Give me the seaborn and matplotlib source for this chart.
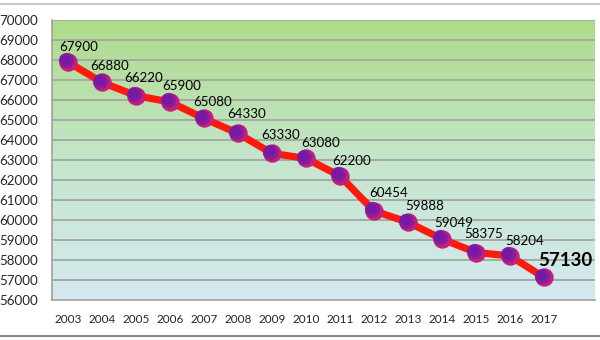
import numpy as np
import pandas as pd
import matplotlib
matplotlib.use("Agg")
import matplotlib.pyplot as plt
import matplotlib.transforms as mtransforms
from matplotlib.colors import LinearSegmentedColormap
from matplotlib.lines import Line2D
import seaborn as sns

years = [2003, 2004, 2005, 2006, 2007, 2008, 2009, 2010, 2011, 2012, 2013, 2014, 2015, 2016, 2017]
values = [67900, 66880, 66220, 65900, 65080, 64330, 63330, 63080, 62200, 60454, 59888, 59049, 58375, 58204, 57130]
yticks = list(range(56000, 70001, 1000))

# label placement (pixels, relative to each point)
label_dx = [11, 8, 8, 12, 9, 9, 9, 15, 12, 15, 17, 12, 8, 15, 21]
label_dy = [15, 16, 18, 16, 16, 19, 18, 15, 15, 18, 16, 16, 18, 15, 17]

sns.set_style("white")
plt.rcParams['font.family'] = ['Lato', 'DejaVu Sans']

df = pd.DataFrame({"year": years, "value": values})

fig = plt.figure(figsize=(6, 3.4), dpi=100)
ax = fig.add_axes([52/600, 1-300/340, (595-52)/600, (300-20)/340])

xmin, xmax = years[0] - 0.47, years[-1] + 1.5
ymin, ymax = 56000, 70000

# gradient background: row 0 drawn at the top
cmap = LinearSegmentedColormap.from_list("bg", ["#aedb88", "#c5e6cc", "#d4e9f0"])
grad = np.linspace(0, 1, 256).reshape(-1, 1)
ax.imshow(grad, cmap=cmap, aspect="auto", origin="upper",
          extent=[xmin, xmax, ymin, ymax], zorder=0)

for t in yticks[1:]:
    ax.axhline(t, color="#a3aba3", lw=1.4, zorder=1)

sns.lineplot(data=df, x="year", y="value", color="#ff1a0d", lw=5.2, ax=ax, zorder=3)

# markers with a pseudo gradient
ax.scatter(years, values, s=175, color="#c0207e", zorder=4, linewidths=0)
off = mtransforms.offset_copy(ax.transData, fig=fig, x=-1.2, y=1.2, units="points")
ax.scatter(years, values, s=120, color="#8a1a9e", zorder=5, linewidths=0, transform=off, alpha=0.9)
off2 = mtransforms.offset_copy(ax.transData, fig=fig, x=-2.0, y=2.0, units="points")
ax.scatter(years, values, s=60, color="#6e1aa6", zorder=6, linewidths=0, transform=off2, alpha=0.8)

for i, (x, v) in enumerate(zip(years, values)):
    last = i == len(years) - 1
    ax.annotate(str(v), (x, v), xytext=(label_dx[i], label_dy[i]), textcoords="offset pixels",
                ha="center", va="center",
                fontsize=13.5 if last else 9.6,
                fontweight="bold" if last else "normal",
                color="black", zorder=7)

ax.set_xlim(xmin, xmax)
ax.set_ylim(ymin, ymax)
ax.set_xticks(years)
ax.set_xticklabels([str(y) for y in years], fontsize=8.5)
ax.set_yticks(yticks)
ax.set_yticklabels([str(t) for t in yticks], fontsize=9.6)
ax.tick_params(axis="x", length=0, pad=10)
ax.tick_params(axis="y", length=0, pad=10)
ax.set_xlabel("")
ax.set_ylabel("")

for s in ["top", "right"]:
    ax.spines[s].set_visible(False)
for s in ["left", "bottom"]:
    ax.spines[s].set_color("#a0a0a0")
    ax.spines[s].set_linewidth(1.2)

fig.add_artist(Line2D([0, 1], [1-4/340, 1-4/340], transform=fig.transFigure, color="#c8c8c8", lw=1.5))
fig.add_artist(Line2D([0, 1], [1-336/340, 1-336/340], transform=fig.transFigure, color="#8a8a8a", lw=1.5))

fig.savefig("out.png", dpi=100)
